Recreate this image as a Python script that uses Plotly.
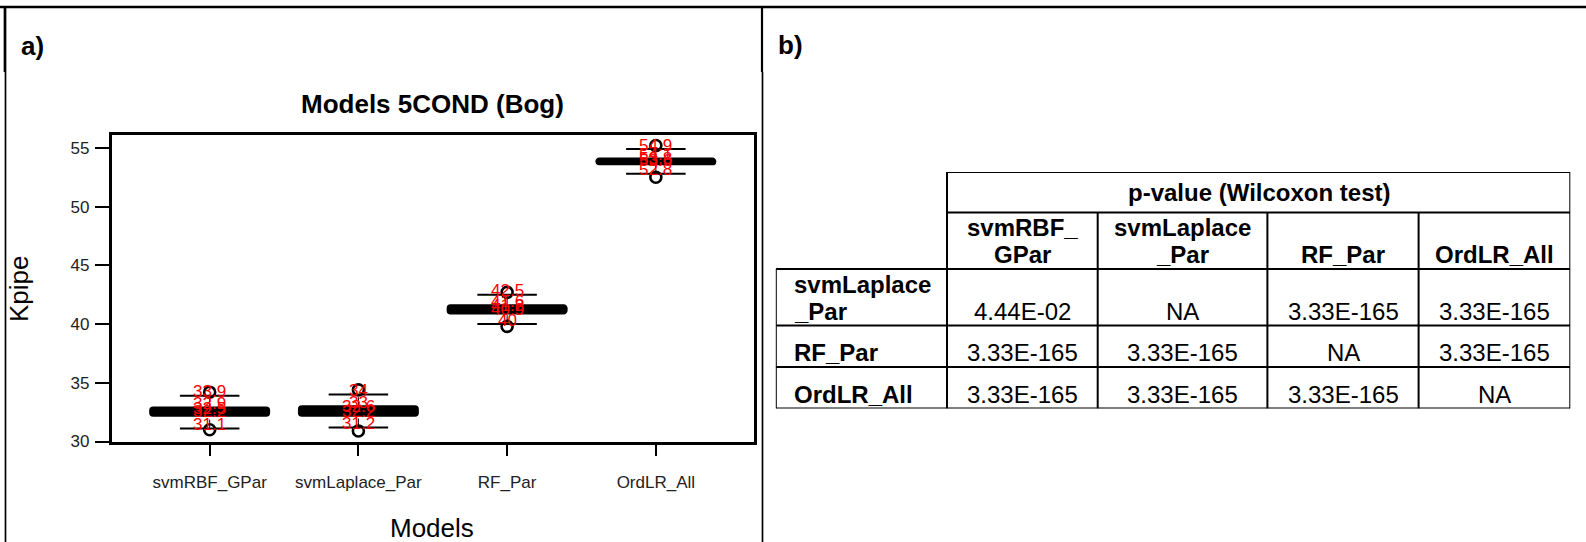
import plotly.graph_objects as go

# ---------------- data: panel a) box statistics ----------------
models = ["svmRBF_GPar", "svmLaplace_Par", "RF_Par", "OrdLR_All"]
whisker_low = [31.1, 31.2, 40.0, 52.8]
q1 = [32.2, 32.2, 40.9, 53.6]
median = [32.5, 32.6, 41.2, 53.8]
q3 = [32.9, 33.0, 41.6, 54.1]
whisker_high = [33.9, 34.0, 42.5, 54.9]
outlier_low = [31.0, 30.9, 39.8, 52.5]
outlier_high = [34.2, 34.4, 42.7, 55.2]
y_ticks = [30, 35, 40, 45, 50, 55]

# ---------------- data: panel b) Wilcoxon p-value table ----------------
col_labels = [["svmRBF_", "GPar"], ["svmLaplace", "_Par"], ["RF_Par"], ["OrdLR_All"]]
row_labels = [["svmLaplace", "_Par"], ["RF_Par"], ["OrdLR_All"]]
p_values = [
    ["4.44E-02", "NA", "3.33E-165", "3.33E-165"],
    ["3.33E-165", "3.33E-165", "NA", "3.33E-165"],
    ["3.33E-165", "3.33E-165", "3.33E-165", "NA"],
]

# canvas size and the nominal layout grid that positions are expressed in
W, FIG_H = 1586, 552
GRID_H = 542
FONT = "Liberation Sans, Arial, sans-serif"


def px(x):
    return x / W


def py(y):
    return 1 - y / GRID_H


pos = list(range(1, len(models) + 1))
box_w = 0.8
cap_w = 0.4

fig = go.Figure()

# boxes (Q1 -> Q3)
fig.add_trace(go.Bar(
    x=pos, y=[b - a for a, b in zip(q1, q3)], base=q1, width=box_w,
    marker=dict(color="black", line=dict(color="black", width=2), cornerradius=3),
    hoverinfo="skip", xaxis="x", yaxis="y",
))

# medians
mx, my = [], []
for p, m in zip(pos, median):
    mx += [p - box_w / 2, p + box_w / 2, None]
    my += [m, m, None]
fig.add_trace(go.Scatter(x=mx, y=my, mode="lines", line=dict(color="black", width=3),
                         hoverinfo="skip"))

# whisker stems (dashed)
sx, sy = [], []
for p, lo, a, b, hi in zip(pos, whisker_low, q1, q3, whisker_high):
    sx += [p, p, None, p, p, None]
    sy += [lo, a, None, b, hi, None]
fig.add_trace(go.Scatter(x=sx, y=sy, mode="lines", line=dict(color="black", width=1, dash="dash"),
                         hoverinfo="skip"))

# whisker caps
cx, cy = [], []
for p, lo, hi in zip(pos, whisker_low, whisker_high):
    cx += [p - cap_w / 2, p + cap_w / 2, None, p - cap_w / 2, p + cap_w / 2, None]
    cy += [lo, lo, None, hi, hi, None]
fig.add_trace(go.Scatter(x=cx, y=cy, mode="lines", line=dict(color="black", width=2),
                         hoverinfo="skip"))

# outliers
fig.add_trace(go.Scatter(
    x=pos + pos, y=outlier_low + outlier_high, mode="markers",
    marker=dict(symbol="circle-open", size=11, color="black", line=dict(width=2.6, color="black")),
    hoverinfo="skip",
))

annotations = []

# red value labels on every box statistic
for p, stats in zip(pos, zip(whisker_low, q1, median, q3, whisker_high)):
    for v in stats:
        annotations.append(dict(
            x=p, y=v, xref="x", yref="y", text=f"{v:g}", showarrow=False,
            xanchor="center", yanchor="middle",
            font=dict(family=FONT, size=17, color="red"), yshift=4,
        ))


def label(x, y, text, size=26, angle=0, xanchor="center"):
    annotations.append(dict(
        x=px(x), y=py(y), xref="paper", yref="paper", text=text, textangle=angle,
        showarrow=False, xanchor=xanchor, yanchor="middle",
        font=dict(family=FONT, size=size, color="black"),
    ))


# panel a) titles and panel tags
label(432, 104, "<b>Models 5COND (Bog)</b>")
label(19, 289, "Kpipe", angle=-90)
label(432, 528, "Models")
label(19, 46, "<b>a)</b>", xanchor="left")
label(776, 45, "<b>b)</b>", xanchor="left")

# ---------------- panel b) table geometry (table-local units) ----------------
col_w = [171.2, 150.7, 169.7, 151.2, 151.7]
row_h = [40.6, 56.4, 56.6, 41.4, 41.6]
tab_left, tab_top = 775.8, 172.0
tab_w, tab_h = sum(col_w), sum(row_h)

xs = [0.0]
for w in col_w:
    xs.append(xs[-1] + w)
ys = [0.0]
for h in row_h:
    ys.append(ys[-1] + h)

shapes = []
LW = 2


def tline(x0, y0, x1, y1):
    shapes.append(dict(type="line", xref="x2", yref="y2", x0=x0, y0=y0, x1=x1, y1=y1,
                       line=dict(color="black", width=LW)))


# header rows span only the value columns
tline(xs[1], ys[0], xs[-1], ys[0])
tline(xs[1], ys[1], xs[-1], ys[1])
for y in ys[2:]:
    tline(xs[0], y, xs[-1], y)
tline(xs[0], ys[2], xs[0], ys[-1])
tline(xs[1], ys[0], xs[1], ys[-1])
for x in xs[2:-1]:
    tline(x, ys[1], x, ys[-1])
tline(xs[-1], ys[0], xs[-1], ys[-1])

TFS = 24
LINE_GAP = 27
PAD_B = 14


def cell_text(x, y_bottom, lines, bold=False, anchor="center"):
    n = len(lines)
    for k, t in enumerate(lines):
        yy = y_bottom - PAD_B - (n - 1 - k) * LINE_GAP
        annotations.append(dict(
            x=x, y=yy, xref="x2", yref="y2", text=f"<b>{t}</b>" if bold else t,
            showarrow=False, xanchor=anchor, yanchor="middle",
            font=dict(family=FONT, size=TFS, color="black"),
        ))


annotations.append(dict(
    x=(xs[1] + xs[-1]) / 2, y=(ys[0] + ys[1]) / 2, xref="x2", yref="y2",
    text="<b>p-value (Wilcoxon test)</b>", showarrow=False, xanchor="center", yanchor="middle",
    font=dict(family=FONT, size=TFS, color="black"),
))
for j, lab in enumerate(col_labels):
    cell_text((xs[j + 1] + xs[j + 2]) / 2, ys[2], lab, bold=True)
for i, lab in enumerate(row_labels):
    cell_text(xs[0] + 16, ys[i + 3], lab, bold=True, anchor="left")
    for j, val in enumerate(p_values[i]):
        cell_text((xs[j + 1] + xs[j + 2]) / 2, ys[i + 3], [val])


# ---------------- figure frame ----------------
def frame(x0, y0, x1, y1, w):
    shapes.append(dict(type="line", xref="paper", yref="paper", x0=px(x0), y0=py(y0),
                       x1=px(x1), y1=py(y1), line=dict(color="black", width=w)))


frame(0, 7, W, 7, 2.5)
frame(5, 7, 5, 72, 2.7)
frame(5.5, 72, 5.5, GRID_H, 1.7)
frame(762, 7, 762, 72, 2.2)
frame(762.5, 72, 762.5, GRID_H, 1.7)

fig.update_layout(
    width=W, height=FIG_H, margin=dict(l=0, r=0, t=0, b=0),
    paper_bgcolor="white", plot_bgcolor="white", showlegend=False,
    font=dict(family=FONT, color="black"),
    xaxis=dict(
        domain=[px(111.5), px(754)], range=[0.34, 4.66], tickmode="array",
        tickvals=pos, ticktext=models, ticks="outside", ticklen=12, tickwidth=2,
        tickcolor="black", showline=True, mirror=True, linewidth=2.5, linecolor="black",
        showgrid=False, zeroline=False, ticklabelstandoff=11,
        tickfont=dict(family=FONT, size=17, color="#222"),
    ),
    yaxis=dict(
        domain=[py(441.5), py(135)], range=[30.0, 56.1], tickmode="array",
        tickvals=y_ticks, ticks="outside", ticklen=14, tickwidth=2, tickcolor="black",
        showline=True, mirror=True, linewidth=2.5, linecolor="black",
        showgrid=False, zeroline=False, ticklabelstandoff=2,
        tickfont=dict(family=FONT, size=17, color="#222"),
    ),
    xaxis2=dict(domain=[px(tab_left), px(tab_left + tab_w)], range=[0, tab_w],
                visible=False, anchor="y2"),
    yaxis2=dict(domain=[py(tab_top + tab_h), py(tab_top)], range=[tab_h, 0],
                visible=False, anchor="x2"),
    shapes=shapes,
    annotations=annotations,
)

fig.write_html("out.html")
